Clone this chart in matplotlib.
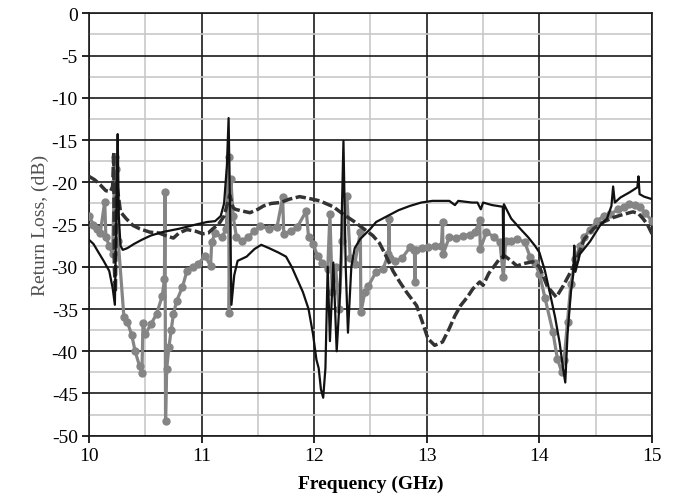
import numpy as np
import matplotlib
matplotlib.use('Agg')
import matplotlib.pyplot as plt
from matplotlib.ticker import MultipleLocator

# solid black curve
f_solid = [10.00, 10.04, 10.08, 10.13, 10.18, 10.21, 10.23, 10.245, 10.255, 10.265,
           10.28, 10.30, 10.34, 10.40, 10.47, 10.55, 10.65, 10.80, 10.95, 11.05,
           11.12, 11.17, 11.20, 11.225, 11.24, 11.255, 11.265, 11.29, 11.32, 11.40,
           11.47, 11.53, 11.60, 11.68, 11.75, 11.80, 11.85, 11.90, 11.95, 11.99,
           12.02, 12.04, 12.06, 12.08, 12.10, 12.12, 12.14, 12.17, 12.20, 12.23,
           12.26, 12.28, 12.30, 12.33, 12.36, 12.41, 12.50, 12.55, 12.65, 12.75,
           12.85, 12.95, 13.05, 13.20, 13.25, 13.28, 13.40, 13.45, 13.48, 13.50,
           13.58, 13.675, 13.68, 13.685, 13.75, 13.83, 13.90, 13.96, 14.00, 14.05,
           14.10, 14.14, 14.18, 14.21, 14.23, 14.25, 14.28, 14.30, 14.31, 14.32,
           14.36, 14.45, 14.54, 14.60, 14.64, 14.655, 14.67, 14.72, 14.80, 14.87,
           14.88, 14.89, 14.93, 15.00]
rl_solid = [-26.8, -27.3, -28.2, -29.3, -30.5, -32.5, -34.5, -22.0, -14.3, -24.0,
            -27.5, -28.0, -27.8, -27.3, -26.8, -26.3, -25.9, -25.5, -25.0, -24.7,
            -24.6, -24.0, -22.5, -18.0, -12.4, -25.0, -34.5, -31.0, -29.3, -28.8,
            -27.9, -27.4, -27.8, -28.3, -28.8, -30.0, -31.5, -33.0, -35.0, -38.0,
            -41.0, -42.0, -44.5, -45.5, -42.0, -30.0, -38.8, -29.5, -40.0, -33.0,
            -15.1, -30.0, -37.8, -30.0, -27.8, -26.7, -25.5, -24.7, -24.0, -23.3,
            -22.8, -22.4, -22.2, -22.2, -22.7, -22.2, -22.4, -22.4, -23.2, -22.4,
            -22.7, -22.9, -29.0, -22.6, -24.3, -25.5, -26.5, -27.5, -28.3, -30.5,
            -33.5, -36.0, -39.0, -42.0, -43.7, -38.0, -33.0, -31.0, -27.5, -30.6,
            -28.5, -27.0, -25.1, -24.3, -22.8, -20.5, -22.4, -21.8, -21.2, -20.6,
            -19.3, -21.4, -21.7, -22.0]

# dashed dark curve
f_dash = [10.00, 10.05, 10.10, 10.15, 10.19, 10.21, 10.22, 10.225, 10.235, 10.245,
          10.28, 10.33, 10.39, 10.45, 10.54, 10.62, 10.70, 10.75, 10.80, 10.87,
          10.95, 11.01, 11.06, 11.10, 11.15, 11.20, 11.25, 11.28, 11.30, 11.36,
          11.43, 11.50, 11.55, 11.62, 11.70, 11.78, 11.87, 11.95, 12.05, 12.17,
          12.26, 12.35, 12.44, 12.52, 12.58, 12.63, 12.70, 12.76, 12.82, 12.91,
          12.96, 13.01, 13.07, 13.14, 13.20, 13.25, 13.30, 13.36, 13.41, 13.47,
          13.50, 13.55, 13.60, 13.65, 13.69, 13.75, 13.80, 13.87, 13.94, 14.00,
          14.07, 14.15, 14.21, 14.27, 14.32, 14.40, 14.48, 14.57, 14.65, 14.72,
          14.83, 14.88, 14.92, 14.96, 15.00]
rl_dash = [-19.3, -19.7, -20.3, -21.0, -21.1, -20.5, -16.5, -30.0, -33.0, -20.0,
           -23.5, -24.3, -25.1, -25.5, -25.9, -26.0, -26.4, -26.6, -26.0, -25.6,
           -25.8, -26.1, -26.0, -25.5, -25.0, -24.0, -21.5, -23.0, -23.2, -23.4,
           -23.6, -23.2, -22.8, -22.5, -22.4, -22.0, -21.7, -21.9, -22.2, -22.9,
           -23.8, -24.6, -25.5, -26.3, -27.2, -28.5, -30.5, -31.8, -33.0, -34.6,
           -36.5, -38.5, -39.3, -38.9, -37.3, -35.8, -34.6, -33.6, -32.6, -31.8,
           -32.2, -30.8, -29.9, -29.0, -28.7, -29.3, -29.9, -29.6, -29.4, -30.0,
           -32.3, -33.6, -32.3, -30.8, -29.5, -26.7, -25.5, -24.7, -24.2, -23.9,
           -23.5, -23.7, -24.3, -25.0, -26.1]

# gray curve with markers
f_gray = [10.00, 10.04, 10.07, 10.10, 10.14, 10.15, 10.18, 10.21, 10.23, 10.24,
          10.26, 10.31, 10.34, 10.38, 10.41, 10.45, 10.47, 10.48, 10.50, 10.55,
          10.60, 10.65, 10.67, 10.675, 10.68, 10.69, 10.71, 10.73, 10.75, 10.78,
          10.83, 10.87, 10.92, 10.97, 11.03, 11.08, 11.09, 11.12, 11.18, 11.22,
          11.24, 11.245, 11.26, 11.28, 11.31, 11.36, 11.41, 11.47, 11.52, 11.60,
          11.67, 11.72, 11.73, 11.79, 11.85, 11.93, 11.95, 11.99, 12.03, 12.07,
          12.12, 12.14, 12.16, 12.19, 12.22, 12.25, 12.29, 12.32, 12.36, 12.41,
          12.415, 12.45, 12.48, 12.55, 12.61, 12.66, 12.665, 12.67, 12.72, 12.78,
          12.85, 12.89, 12.895, 12.90, 12.96, 13.01, 13.07, 13.13, 13.14, 13.145,
          13.20, 13.26, 13.32, 13.38, 13.43, 13.47, 13.475, 13.53, 13.60, 13.65,
          13.68, 13.70, 13.75, 13.80, 13.87, 13.92, 13.96, 14.00, 14.05, 14.12,
          14.16, 14.20, 14.22, 14.25, 14.28, 14.32, 14.36, 14.40, 14.45, 14.51,
          14.57, 14.63, 14.70, 14.75, 14.80, 14.85, 14.89, 14.94, 15.00]
rl_gray = [-24.0, -25.0, -25.5, -26.0, -22.3, -26.5, -27.5, -28.5, -17.0, -18.4,
           -27.0, -35.9, -36.5, -38.1, -40.0, -41.8, -42.6, -36.6, -38.0, -36.8,
           -35.6, -33.5, -31.5, -21.1, -48.3, -42.1, -39.5, -37.5, -35.6, -34.0,
           -32.4, -30.5, -30.0, -29.7, -28.7, -29.9, -27.1, -26.0, -26.5, -25.5,
           -17.0, -35.5, -19.6, -24.0, -26.5, -27.0, -26.5, -25.8, -25.2, -25.5,
           -25.3, -21.8, -26.1, -25.8, -25.3, -23.4, -26.5, -27.3, -28.7, -29.5,
           -30.3, -23.8, -33.0, -30.0, -35.0, -27.0, -21.6, -29.0, -29.7, -25.9,
           -35.4, -33.0, -32.3, -30.6, -30.3, -28.5, -24.4, -29.0, -29.3, -29.0,
           -27.7, -28.0, -31.8, -28.0, -27.8, -27.7, -27.5, -27.5, -24.7, -28.5,
           -26.5, -26.6, -26.3, -26.2, -25.9, -24.5, -27.9, -25.9, -26.5, -27.1,
           -31.2, -27.0, -26.9, -26.7, -27.1, -28.9, -29.5, -30.8, -33.7, -37.7,
           -40.9, -42.5, -41.0, -36.5, -32.0, -29.1, -27.5, -26.5, -25.6, -24.6,
           -24.0, -23.8, -23.2, -22.9, -22.6, -22.7, -22.9, -23.6, -24.6]

plt.rcParams['font.family'] = 'Liberation Serif'
plt.rcParams['axes.unicode_minus'] = False

fig = plt.figure(figsize=(6.86, 5.02), dpi=100)
ax = fig.add_axes([0.1297, 0.130, 0.8207, 0.8415])

ax.plot(f_gray, rl_gray, '-o', color='#858585', lw=2.3, ms=5, zorder=3)
ax.plot(f_dash, rl_dash, color='#333333', lw=2.5, dashes=(3, 1.0), zorder=4)
ax.plot(f_solid, rl_solid, color='#111111', lw=1.6, zorder=5)

ax.set_xlim(10, 15)
ax.set_ylim(-50, 0)
ax.xaxis.set_major_locator(MultipleLocator(1))
ax.xaxis.set_minor_locator(MultipleLocator(0.5))
ax.yaxis.set_major_locator(MultipleLocator(5))
ax.yaxis.set_minor_locator(MultipleLocator(2.5))
ax.grid(which='minor', color='#c8c8c8', lw=1.2, zorder=0)
ax.grid(which='major', color='#1a1a1a', lw=1.2, zorder=1)
ax.set_axisbelow(True)
ax.tick_params(which='major', direction='out', length=5, width=1.2, labelsize=14, pad=3)
ax.tick_params(which='minor', length=0)
for s in ax.spines.values():
    s.set_color('#1a1a1a')
    s.set_linewidth(1.2)

ax.set_xlabel('Frequency (GHz)', fontsize=14, fontweight='bold', labelpad=8)
ax.set_ylabel('Return Loss, (dB)', fontsize=14, color='#505050', labelpad=2)

plt.savefig('out.png', dpi=100)
